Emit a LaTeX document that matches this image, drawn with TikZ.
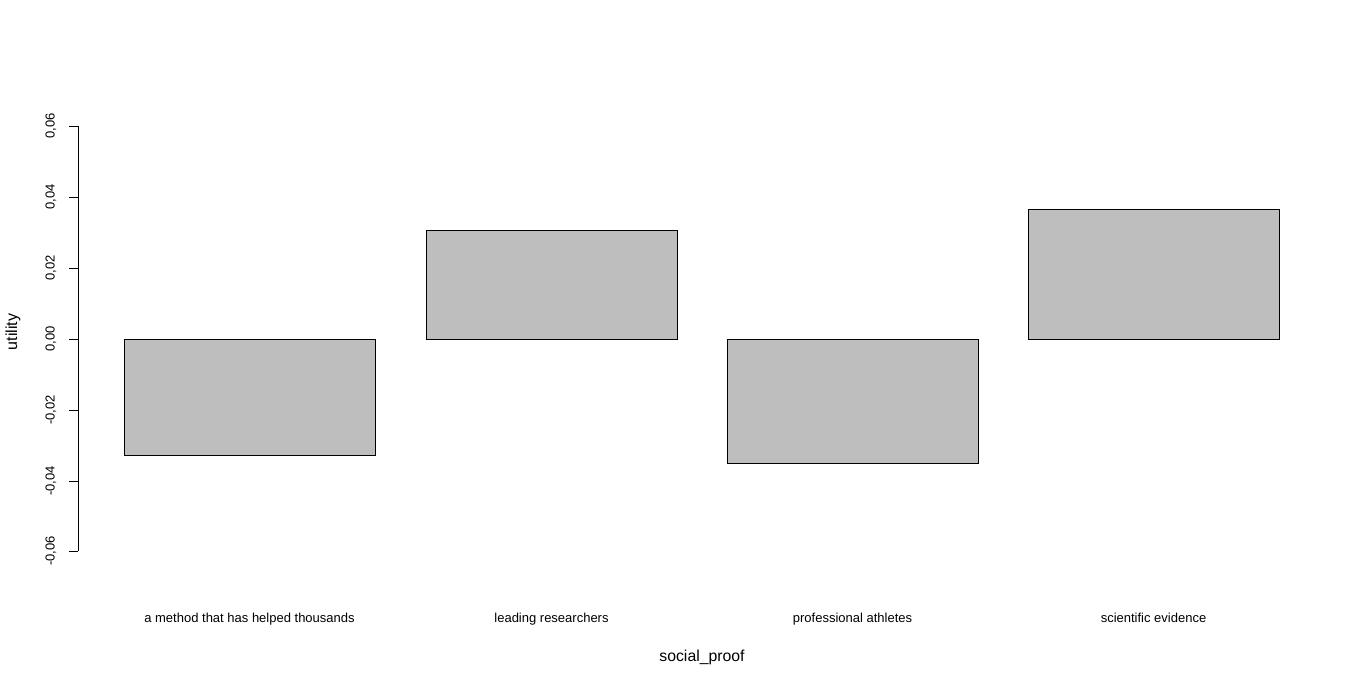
\documentclass[tikz,border=0pt]{standalone}
\usepackage{fontspec}
\setmainfont{Liberation Sans}
\usepackage{tikz}
\usetikzlibrary{positioning}

\begin{document}
\begin{tikzpicture}[x=1pt,y=-1pt,
    bar/.style={draw=black,fill={rgb,255:red,190;green,190;blue,190},line width=0.8pt},
    ticklab/.style={rotate=90,font=\fontsize{13}{15}\selectfont,inner sep=0pt},
    catlab/.style={font=\fontsize{13}{15}\selectfont,inner sep=0pt,anchor=base}]
    \useasboundingbox (0,0) rectangle (1366,685);
    % y axis
    \draw[line width=0.8pt] (78,126) -- (78,551);
    \foreach \yy/\lab in {126/0{,}06,197/0{,}04,268/0{,}02,339/0{,}00,410/-0{,}02,481/-0{,}04,551/-0{,}06} {
        \draw[line width=0.8pt] (69,\yy) -- (78,\yy);
        \node[ticklab] at (51,\yy) {\lab};
    }
    \node[rotate=90,font=\fontsize{16}{18}\selectfont] (ylab) at (13,332) {utility};
    % bars
    \draw[bar] (124,339) rectangle (375,455);
    \draw[bar] (426,339) rectangle (677,230);
    \draw[bar] (727,339) rectangle (978,463);
    \draw[bar] (1028,339) rectangle (1279,209);
    % category labels
    \node[catlab] (c1) at (249.5,622.5) {a method that has helped thousands};
    \node[catlab] (c2) at (551.5,622.5) {leading researchers};
    \node[catlab] (c3) at (852.5,622.5) {professional athletes};
    \node[catlab] (c4) at (1153.5,622.5) {scientific evidence};
    \node[font=\fontsize{15.8}{18}\selectfont,inner sep=0pt,anchor=base] (xlab) at (702,661) {social\_proof};
\end{tikzpicture}
\end{document}
